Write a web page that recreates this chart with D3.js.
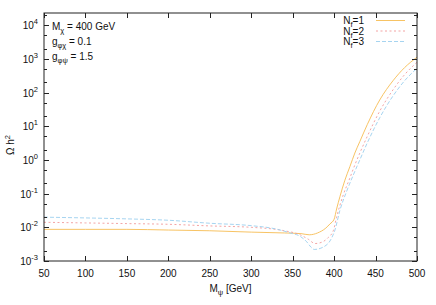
<!DOCTYPE html>
<html><head><meta charset="utf-8">
<script src="https://cdn.jsdelivr.net/npm/d3@7"></script>
<style>body{margin:0;background:#fff}svg text{font-family:"Liberation Sans",Arial,sans-serif;fill:#111}</style>
</head><body><svg id="c" width="436" height="305"></svg>
<script>
const seriesNames = ["1","2","3"];
const mass1 = [50,100,150,200,250,300,340,360,370,375,380,390,395,400,403,407,413,419,425,431,440,455,471,485,500];
const omega1 = [8.7e-3,8.7e-3,8.7e-3,8.3e-3,7.9e-3,7.2e-3,6.8e-3,6.5e-3,6.0e-3,6.2e-3,6.8e-3,9.5e-3,1.26e-2,1.74e-2,3.5e-2,8.1e-2,0.25,0.63,1.6,3.5,11.2,60,224,550,1120];
const mass2 = [50,100,150,200,250,300,340,359,369,377,385,393,399,403,411,419,425,431,440,455,471,485,500];
const omega2 = [1.41e-2,1.35e-2,1.29e-2,1.23e-2,1.10e-2,1.0e-2,7.9e-3,6.0e-3,4.4e-3,3.3e-3,3.6e-3,5.0e-3,7.9e-3,2.0e-2,9.1e-2,0.29,0.71,1.6,5.0,28,120,339,794];
const mass3 = [50,100,150,200,250,300,330,347,359,367,372,376,387,397,401,407,415,423,431,440,455,471,485,500];
const omega3 = [2.0e-2,1.9e-2,1.78e-2,1.62e-2,1.32e-2,1.12e-2,8.9e-3,6.8e-3,5.4e-3,3.7e-3,2.6e-3,2.2e-3,2.6e-3,4.8e-3,8.3e-3,3.2e-2,0.115,0.35,1.0,3.2,17.8,79,224,525];
const xTicks = [50,100,150,200,250,300,350,400,450,500];
const yTickExps = [-3,-2,-1,0,1,2,3,4];

const svg = d3.select("#c");
const L=44,R=417,T=13,B=261;
const x = d3.scaleLinear().domain([50,500]).range([L,R]);
const y = d3.scaleLog().domain([1e-3, 2.3e4]).range([B,T]);

const series = [
  {name:"1", m:mass1, v:omega1, color:"#f6bc52", dash:null},
  {name:"2", m:mass2, v:omega2, color:"#f29a9a", dash:"2,2.5"},
  {name:"3", m:mass3, v:omega3, color:"#9ccfee", dash:"4,2"}
];

svg.append("defs").append("clipPath").attr("id","clip").append("rect")
  .attr("x",L).attr("y",T).attr("width",R-L).attr("height",B-T);

const line = d3.line().x(d=>x(d[0])).y(d=>y(d[1])).curve(d3.curveMonotoneX);
const g = svg.append("g").attr("clip-path","url(#clip)");
series.forEach(s=>{
  g.append("path").datum(s.m.map((m,i)=>[m,s.v[i]]))
   .attr("d",line).attr("fill","none").attr("stroke",s.color).attr("stroke-width",0.9)
   .attr("stroke-dasharray",s.dash);
});

// frame
svg.append("rect").attr("x",L).attr("y",T).attr("width",R-L).attr("height",B-T)
  .attr("fill","none").attr("stroke","#222").attr("stroke-width",1);

// x ticks
const xa = svg.append("g");
xTicks.forEach(t=>{
  const px = Math.round(x(t))+0.5;
  xa.append("line").attr("x1",px).attr("x2",px).attr("y1",B).attr("y2",B-5).attr("stroke","#222");
  xa.append("line").attr("x1",px).attr("x2",px).attr("y1",T).attr("y2",T+5).attr("stroke","#222");
  xa.append("text").attr("x",x(t)).attr("y",B+16).attr("text-anchor","middle").attr("font-size",10).text(t);
});
// y ticks
const ya = svg.append("g");
yTickExps.forEach(e=>{
  const v = Math.pow(10,e);
  const py = Math.round(y(v))+0.5;
  ya.append("line").attr("x1",L).attr("x2",L+5).attr("y1",py).attr("y2",py).attr("stroke","#222");
  ya.append("line").attr("x1",R).attr("x2",R-5).attr("y1",py).attr("y2",py).attr("stroke","#222");
  const t = ya.append("text").attr("x",L-6).attr("y",y(v)+4).attr("text-anchor","end").attr("font-size",10);
  t.append("tspan").text("10");
  t.append("tspan").attr("dy",-5).attr("font-size",7.5).text(e);
  [2,5].forEach(k=>{
    const mv = k*v;
    if (mv>y.domain()[1]) return;
    const my = Math.round(y(mv))+0.5;
    ya.append("line").attr("x1",L).attr("x2",L+3).attr("y1",my).attr("y2",my).attr("stroke","#222");
    ya.append("line").attr("x1",R).attr("x2",R-3).attr("y1",my).attr("y2",my).attr("stroke","#222");
  });
});

// axis labels
const yl = svg.append("text").attr("transform","translate(14,"+((T+B)/2+8)+") rotate(-90)")
  .attr("text-anchor","middle").attr("font-size",10);
yl.append("tspan").text("Ω h");
yl.append("tspan").attr("dy",-4).attr("font-size",7.5).text("2");
const xl = svg.append("text").attr("x",(L+R)/2).attr("y",292).attr("text-anchor","middle").attr("font-size",10);
xl.append("tspan").text("M");
xl.append("tspan").attr("dy",3).attr("font-size",7.5).text("ψ");
xl.append("tspan").attr("dy",-3).text(" [GeV]");

// annotation
const ann = [["M","χ"," = 400 GeV"],["g","φχ"," = 0.1"],["g","φψ"," = 1.5"]];
ann.forEach((a,i)=>{
  const t = svg.append("text").attr("x",52).attr("y",30+i*15).attr("font-size",10);
  t.append("tspan").text(a[0]);
  t.append("tspan").attr("dy",3).attr("font-size",7.5).text(a[1]);
  t.append("tspan").attr("dy",-3).text(a[2]);
});

// legend
series.forEach((s,i)=>{
  const ly = 20+i*10.5;
  const t = svg.append("text").attr("x",364).attr("y",ly+4).attr("text-anchor","end").attr("font-size",10);
  t.append("tspan").text("N");
  t.append("tspan").attr("dy",3).attr("font-size",7.5).text("f");
  t.append("tspan").attr("dy",-3).text("="+s.name);
  svg.append("line").attr("x1",376).attr("x2",405).attr("y1",ly+0.5).attr("y2",ly+0.5)
    .attr("stroke",s.color).attr("stroke-width",0.9).attr("stroke-dasharray",s.dash);
});
</script></body></html>
